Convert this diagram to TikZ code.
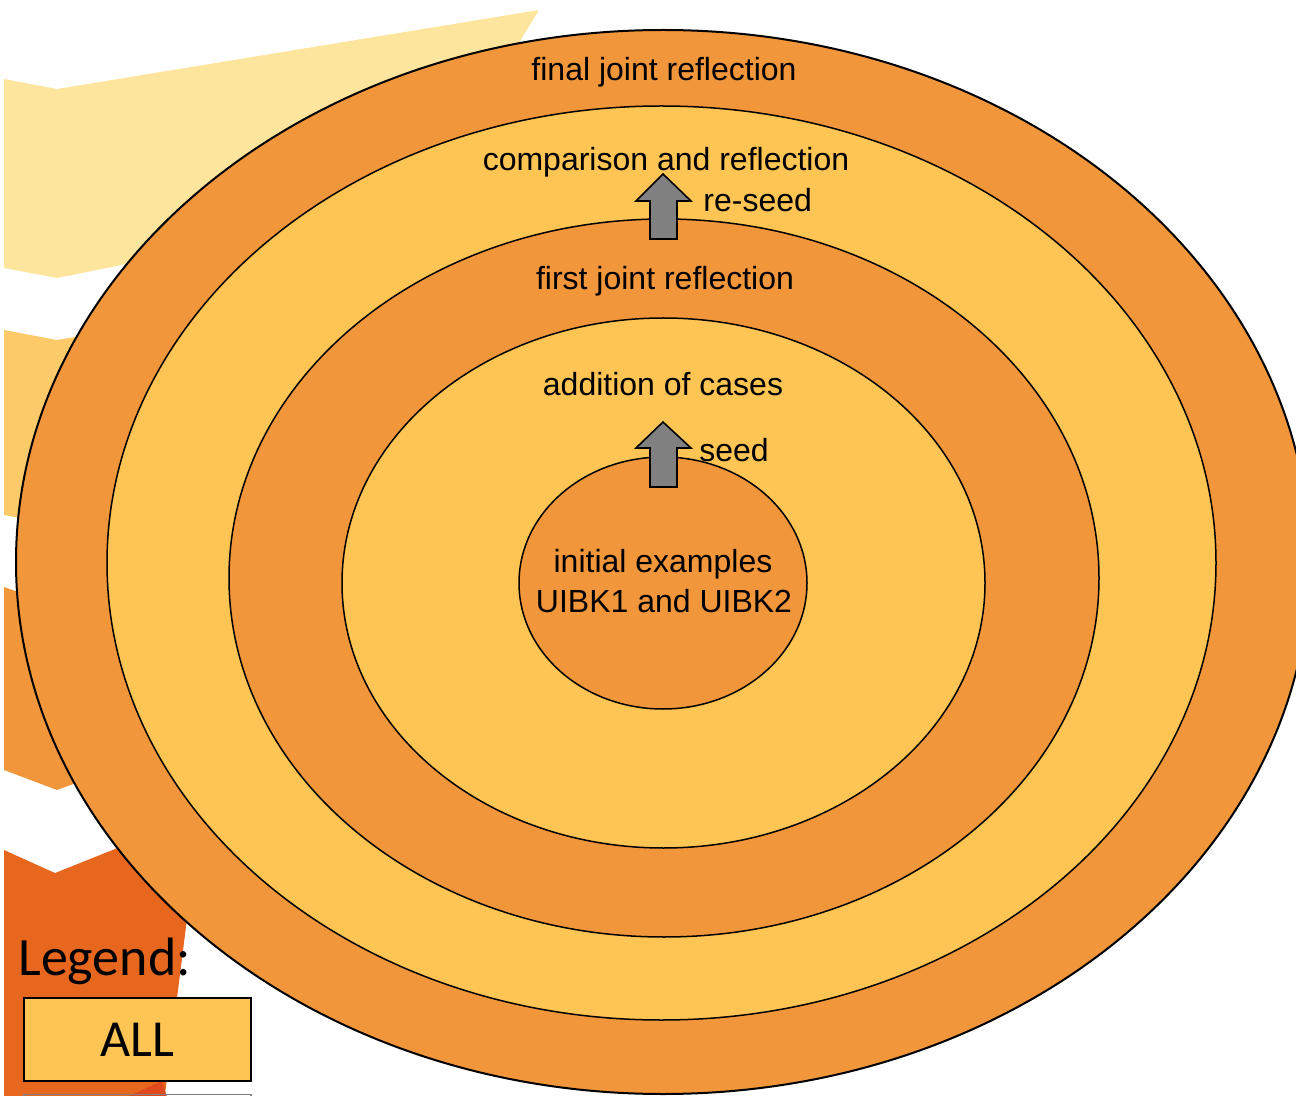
\documentclass[tikz,border=0pt]{standalone}
\usepackage{fontspec}
\setmainfont{Liberation Sans}
\newfontfamily\legendfont{Carlito}
\usetikzlibrary{shapes.geometric}
\definecolor{ringorange}{HTML}{F1963B}
\definecolor{ringyellow}{HTML}{FEC454}
\definecolor{chevpale}{HTML}{FDE59E}
\definecolor{chevlight}{HTML}{FDCA69}
\definecolor{chevorange}{HTML}{F1963B}
\definecolor{chevred}{HTML}{E8671F}
\definecolor{chevdeep}{HTML}{E04A1E}
\definecolor{arrowgray}{HTML}{808080}
\begin{document}
\begin{tikzpicture}[x=0.5pt,y=-0.5pt,
  ring/.style={ellipse, draw=black, line width=0.75pt, inner sep=0pt, outer sep=0pt},
  lbl/.style={font=\fontsize{16}{19}\selectfont, inner sep=0pt, anchor=base},
  blockarrow/.style={draw=black, line width=0.8pt, fill=arrowgray, line join=miter}]
\useasboundingbox (0,0) rectangle (1296,1096);
\begin{scope}
\clip (0,0) rectangle (1296,1096);

% chevron stack in the background
\fill[chevpale]   (4,79) -- (57,89) -- (539,10) -- (420,205) -- (57,278) -- (4,268) -- cycle;
\fill[chevlight]  (4,330) -- (57,340) -- (300,300) -- (300,485) -- (57,525) -- (4,515) -- cycle;
\fill[chevorange] (4,587) -- (57,606) -- (300,521) -- (300,700) -- (57,790) -- (4,770) -- cycle;
\fill[chevred]    (4,850) -- (55,873) -- (200,815) -- (163,1110) -- (4,1110) -- cycle;
\fill[chevdeep]   (120,1100) -- (162,1081) -- (168,1100) -- cycle;

% concentric stages
\node[ring, line width=1pt, fill=ringorange, minimum width=647pt, minimum height=532pt] (finalring) at (663,562) {};
\node[ring, fill=ringyellow, minimum width=554.5pt, minimum height=457pt] (comparering) at (661.5,563) {};
\node[ring, fill=ringorange, minimum width=435pt, minimum height=359pt] (firstring) at (664,578) {};
\node[ring, fill=ringyellow, minimum width=321.5pt, minimum height=265pt] (additionring) at (663.5,583) {};
\node[ring, fill=ringorange, minimum width=144pt, minimum height=126pt] (initialring) at (663,583) {};

% block arrows
\coordinate (reseedtip) at (663,174);
\draw[blockarrow] (reseedtip) -- ++(28,27) -- ++(-14,0) -- ++(0,38) -- ++(-27,0) -- ++(0,-38) -- ++(-14,0) -- cycle;
\coordinate (seedtip) at (663,422);
\draw[blockarrow] (seedtip) -- ++(28,26) -- ++(-14,0) -- ++(0,39) -- ++(-27,0) -- ++(0,-39) -- ++(-14,0) -- cycle;

% labels
\node[lbl] (tfinal) at (664,81) {final joint reflection};
\node[lbl] (tcompare) at (666,171) {comparison and reflection};
\node[lbl, anchor=base west] (treseed) at (703,212) {re-seed};
\node[lbl] (tfirst) at (665,290) {first joint reflection};
\node[lbl] (taddition) at (663,396) {addition of cases};
\node[lbl, anchor=base west] (tseed) at (699,462) {seed};
\node[lbl] (tinitA) at (663,573) {initial examples};
\node[lbl] (tinitB) at (664,612) {UIBK1 and UIBK2};

% legend
\node[font=\legendfont\fontsize{27}{32}\selectfont, anchor=base west, inner sep=0pt] (legendtitle) at (18,975) {Legend:};
\node[draw=black, line width=1pt, fill=ringyellow, minimum width=113.5pt, minimum height=41.5pt, inner sep=0pt,
      font=\legendfont\fontsize{26}{30}\selectfont] (legendall) at (137.5,1039.5) {ALL};
\node[draw=gray, line width=0.8pt, minimum width=113.5pt, minimum height=41.5pt, inner sep=0pt] (legendnext) at (137.5,1136) {};
\end{scope}
\end{tikzpicture}
\end{document}
